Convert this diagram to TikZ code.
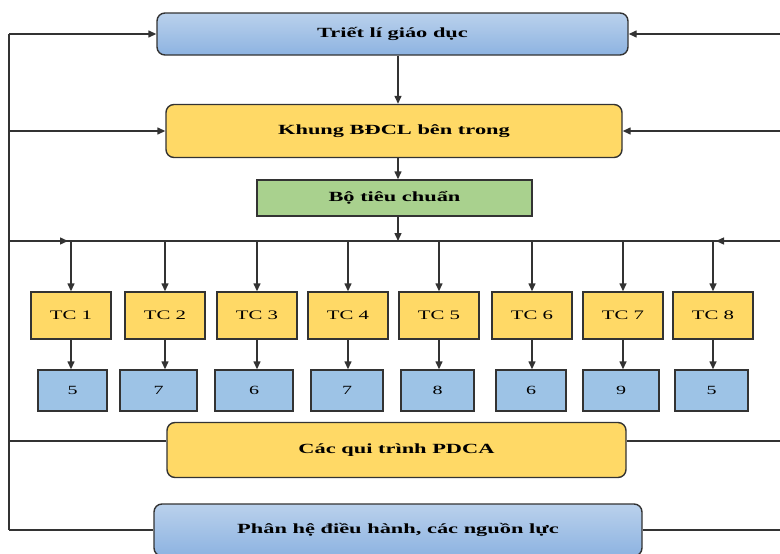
\documentclass[tikz,border=0pt]{standalone}
\usepackage{fontspec}
\setmainfont{Liberation Serif}[FakeStretch=1.6]
\usepackage{tikz}
\usetikzlibrary{arrows.meta, positioning}
\definecolor{edge}{HTML}{333333}
\definecolor{skytop}{HTML}{BAD1EC}
\definecolor{skybot}{HTML}{8DB3E1}
\definecolor{gold}{HTML}{FFD966}
\definecolor{leaf}{HTML}{A9D18E}
\definecolor{countblue}{HTML}{9DC3E6}
\tikzset{
    bigbox/.style={draw=edge, line width=1.4pt, rounded corners=8pt, inner sep=0pt, font=\fontsize{14}{16}\selectfont\bfseries},
    philbox/.style={bigbox, top color=skytop, bottom color=skybot},
    framebox/.style={bigbox, fill=gold},
    stdbox/.style={draw=edge, line width=1.4pt, fill=leaf, inner sep=0pt, font=\fontsize{14}{16}\selectfont\bfseries},
    tcbox/.style={draw=edge, line width=1.4pt, fill=gold, minimum width=80pt, minimum height=47pt, inner sep=0pt, font=\fontsize{13}{15}\selectfont},
    countbox/.style={draw=edge, line width=1.4pt, fill=countblue, minimum height=41pt, inner sep=0pt, font=\fontsize{12.5}{14}\selectfont},
    link/.style={line width=1.4pt, draw=edge},
    arr/.style={link, -{Triangle[length=8pt, width=7pt]}}
}

\begin{document}
\begin{tikzpicture}[x=1pt, y=-1pt]
    \useasboundingbox (0,0) rectangle (780,554);
    \clip (0,0) rectangle (780,554);
    % main column
    \node[philbox, minimum width=471pt, minimum height=42pt] (triet) at (392.5,34) {Triết lí giáo dục};
    \node[framebox, minimum width=456pt, minimum height=53pt] (khung) at (394,131) {Khung BĐCL bên trong};
    \node[stdbox, minimum width=275pt, minimum height=36pt] (bo) at (394.5,198) {Bộ tiêu chuẩn};
    \node[framebox, minimum width=459pt, minimum height=55pt] (pdca) at (396.5,450) {Các qui trình PDCA};
    \node[philbox, minimum width=488pt, minimum height=52pt] (phan) at (398,530) {Phân hệ điều hành, các nguồn lực};
    \coordinate (lt) at (9,0);
    \coordinate (re) at (780,0);
    \coordinate (spine) at (398,0);
    \coordinate (bus) at (9,241);
    \coordinate (busr) at (780,241);
    \coordinate (pd) at ([yshift=9pt]pdca.west);
    \coordinate (pde) at ([yshift=9pt]pdca.east);
    \draw[arr] (triet.south -| spine) -- (khung.north -| spine);
    \draw[arr] (khung.south -| spine) -- (bo.north -| spine);
    \draw[arr] (bo.south -| spine) -- (bus -| spine);
    % criteria row
    \foreach \i/\x/\n/\nx/\nw in {1/71/5/72.5/69, 2/165/7/158.5/77, 3/257/6/254/78, 4/348/7/347/72,
                                 5/439/8/437.5/73, 6/532/6/531/70, 7/623/9/621/76, 8/713/5/711.5/73} {
        \node[tcbox] (tc\i) at (\x,315.5) {TC \i};
        \node[countbox, minimum width=\nw pt] (n\i) at (\nx,390.5) {\n};
        \draw[arr] (tc\i.north |- bus) -- (tc\i.north);
        \draw[arr] (tc\i.south) -- (tc\i.south |- n\i.north);
    }
    \draw[link] (bus) -- (busr);
    \draw[arr, shorten >=3pt] (bus) -- (tc1.north |- bus);
    \draw[arr, shorten >=3pt] (busr) -- (tc8.north |- bus);
    % feedback lines
    \draw[link] (triet.west -| lt) -- (phan.west -| lt);
    \draw[arr] (triet.west -| lt) -- (triet.west);
    \draw[arr] (khung.west -| lt) -- (khung.west);
    \draw[link] (pd -| lt) -- (pd);
    \draw[link] (phan.west -| lt) -- (phan.west);
    \draw[arr] (triet.east -| re) -- (triet.east);
    \draw[arr] (khung.east -| re) -- (khung.east);
    \draw[link] (pde) -- (pde -| re);
    \draw[link] (phan.east) -- (phan.east -| re);
\end{tikzpicture}
\end{document}
